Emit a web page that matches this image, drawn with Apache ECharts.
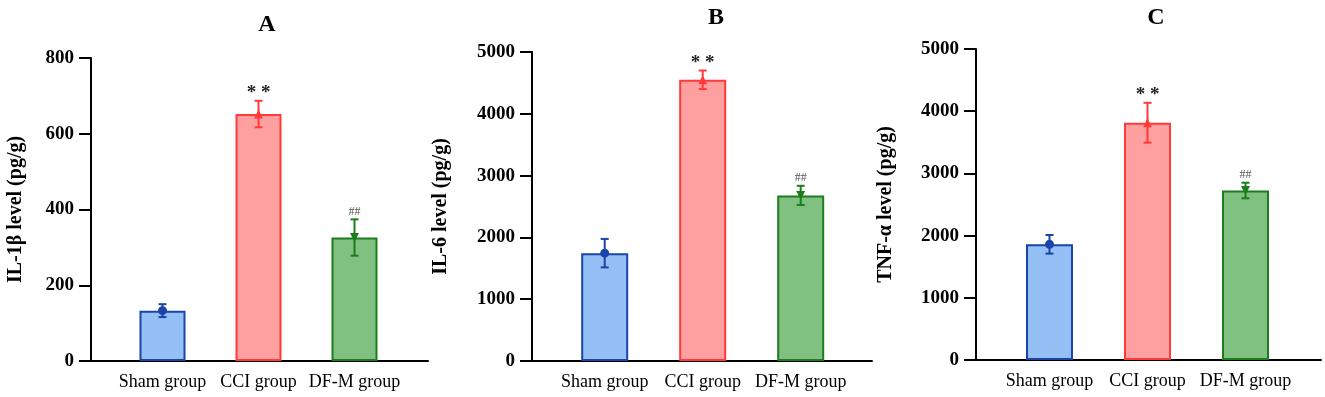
<!DOCTYPE html>
<html>
<head>
<meta charset="utf-8">
<script src="https://cdn.jsdelivr.net/npm/echarts@6/dist/echarts.min.js"></script>
<style>
  html, body { margin: 0; padding: 0; background: #fff; }
  #main { width: 1325px; height: 397px; }
</style>
</head>
<body>
<div id="main"></div>
<script>
var categories = ['Sham group', 'CCI group', 'DF-M group'];
var panelTitles = ['A', 'B', 'C'];
var yNames = ['IL-1β level (pg/g)', 'IL-6 level (pg/g)', 'TNF-α level (pg/g)'];
var yMax = [800, 5000, 5000];
var yStep = [200, 1000, 1000];

var il1bMean = [133, 652, 326];
var il1bSd = [17, 35, 48];
var il6Mean = [1745, 4550, 2680];
var il6Sd = [230, 150, 155];
var tnfMean = [1860, 3815, 2725];
var tnfSd = [150, 320, 125];

var sigMarks = ['', '* *', '##'];

var means = [il1bMean, il6Mean, tnfMean];
var sds = [il1bSd, il6Sd, tnfSd];

var fillColors = ['#94c0f6', '#ffa0a0', '#80c080'];
var lineColors = ['#1a44a8', '#ff3a3a', '#1c7d1c'];
var markerSymbols = ['circle', 'triangle', 'triangle'];
var markerRotate = [0, 0, 180];

// layout of each panel, in px
var layout = [
    { axisLeft: 91, axisRight: 428, top: 58, bottom: 36, barLeft: 114.5, barWidth: 288, bar: 46, nameGap: 65, title: [262, 8] },
    { axisLeft: 532, axisRight: 872, top: 52, bottom: 36, barLeft: 555.7, barWidth: 294, bar: 47, nameGap: 81, title: [711, 1] },
    { axisLeft: 976, axisRight: 1321, top: 49, bottom: 37, barLeft: 1000.5, barWidth: 294, bar: 47, nameGap: 80, title: [1151, 1] }
];

var serif = '"Liberation Serif", "Times New Roman", serif';

var chartDom = document.getElementById('main');
var myChart = echarts.init(chartDom);

var grids = [], xAxes = [], yAxes = [], series = [], titles = [];

layout.forEach(function (L, p) {
    var fg = 2 * p, bg = 2 * p + 1;
    grids.push({ left: L.axisLeft, width: L.axisRight - L.axisLeft, top: L.top, bottom: L.bottom });
    grids.push({ left: L.barLeft, width: L.barWidth, top: L.top, bottom: L.bottom });

    titles.push({
        text: panelTitles[p],
        left: L.title[0],
        top: L.title[1],
        textAlign: 'center',
        textStyle: { fontFamily: serif, fontSize: 24, fontWeight: 'bold', color: '#000' }
    });

    // frame axes
    xAxes.push({
        gridIndex: fg, type: 'value', min: 0, max: 1,
        axisLine: { show: true, lineStyle: { color: '#000', width: 2 } },
        axisTick: { show: false }, axisLabel: { show: false }, splitLine: { show: false }
    });
    yAxes.push({
        gridIndex: fg, type: 'value', min: 0, max: yMax[p], interval: yStep[p],
        name: yNames[p], nameLocation: 'middle', nameGap: L.nameGap,
        nameTextStyle: { fontFamily: serif, fontSize: 20, fontWeight: 'bold', color: '#000' },
        axisLine: { show: true, lineStyle: { color: '#000', width: 2 } },
        axisTick: { show: true, length: 12, lineStyle: { color: '#000', width: 2 } },
        axisLabel: {
            fontFamily: serif, fontSize: 19, fontWeight: 'bold', color: '#000', margin: 17,
            formatter: function (v) { return String(v); }
        },
        splitLine: { show: false }
    });

    // bar axes
    xAxes.push({
        gridIndex: bg, type: 'category', data: categories,
        axisLine: { show: false }, axisTick: { show: false },
        axisLabel: { fontFamily: serif, fontSize: 18, color: '#000', margin: 12, interval: 0 }
    });
    yAxes.push({ gridIndex: bg, type: 'value', min: 0, max: yMax[p], show: false });

    series.push({
        type: 'bar',
        xAxisIndex: bg, yAxisIndex: bg,
        barWidth: L.bar,
        data: means[p].map(function (v, i) {
            return { value: v, itemStyle: { color: fillColors[i], borderColor: lineColors[i], borderWidth: 2 } };
        }),
        z: 2
    });

    series.push({
        type: 'custom',
        xAxisIndex: bg, yAxisIndex: bg,
        data: means[p].map(function (v, i) { return [i, v, sds[p][i]]; }),
        encode: { x: 0, y: 1 },
        renderItem: function (params, api) {
            var i = api.value(0), m = api.value(1), s = api.value(2);
            var hi = api.coord([i, m + s]);
            var lo = api.coord([i, m - s]);
            var c = lineColors[i];
            var st = { stroke: c, lineWidth: 2 };
            var children = [
                { type: 'line', shape: { x1: hi[0], y1: hi[1], x2: lo[0], y2: lo[1] }, style: st },
                { type: 'line', shape: { x1: hi[0] - 4, y1: hi[1], x2: hi[0] + 4, y2: hi[1] }, style: st },
                { type: 'line', shape: { x1: lo[0] - 4, y1: lo[1], x2: lo[0] + 4, y2: lo[1] }, style: st }
            ];
            if (sigMarks[i]) {
                children.push({
                    type: 'text',
                    style: {
                        x: hi[0], y: i === 1 ? hi[1] + 2 : hi[1] - 2, text: sigMarks[i],
                        align: 'center', verticalAlign: 'bottom',
                        font: (i === 1 ? 'bold 19px ' : '12px ') + serif,
                        fill: i === 1 ? '#222' : '#555'
                    }
                });
            }
            return { type: 'group', children: children };
        },
        z: 4
    });

    series.push({
        type: 'scatter',
        xAxisIndex: bg, yAxisIndex: bg,
        data: means[p].map(function (v, i) {
            return { value: [i, v], symbol: markerSymbols[i], symbolRotate: markerRotate[i], itemStyle: { color: lineColors[i], opacity: 1 } };
        }),
        symbolSize: 9,
        z: 5
    });
});

var option = {
    backgroundColor: '#fff',
    animation: false,
    title: titles,
    grid: grids,
    xAxis: xAxes,
    yAxis: yAxes,
    series: series
};

option && myChart.setOption(option);
</script>
</body>
</html>
